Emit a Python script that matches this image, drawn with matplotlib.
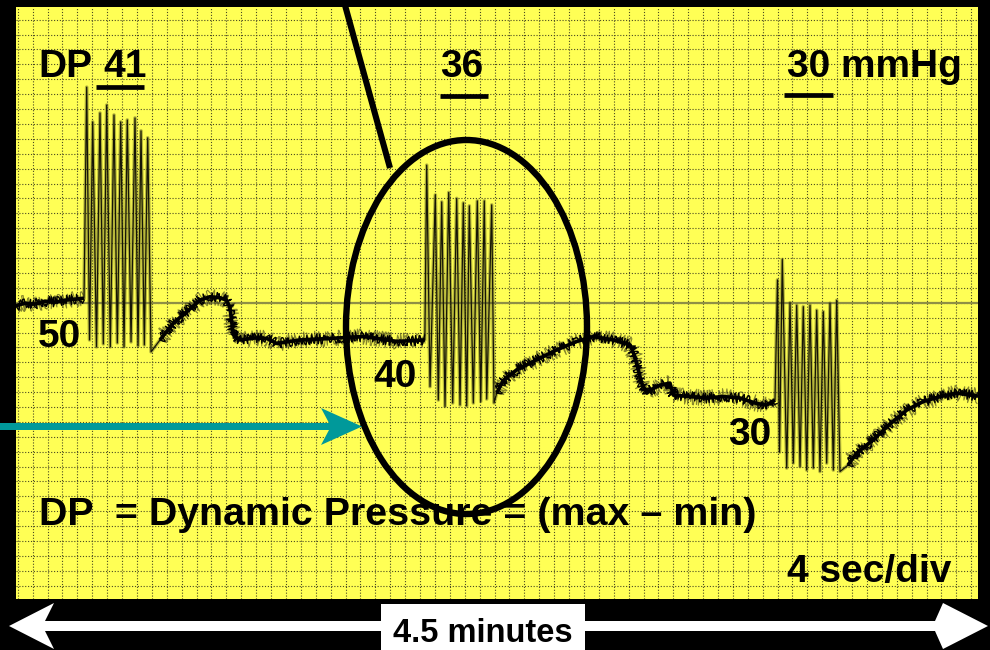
import numpy as np
import matplotlib
matplotlib.use("Agg")
import matplotlib.pyplot as plt
from matplotlib.patches import Ellipse, Polygon, Rectangle

# recorder trace: time in s, pressure in mmHg
seg1_t = [-0.5, 2.0, 4.6, 7.3, 10.0, 12.7, 15.4, 17.8]
seg1_p = [59.4, 59.9, 59.7, 60.3, 60.1, 60.5, 60.7, 60.9]

burst1_peak_t = [18.52, 20.13, 22.09, 23.89, 25.85, 27.65, 29.42, 31.49, 33.10, 34.90]
burst1_peak_p = [103.4, 96.4, 98.2, 99.8, 97.8, 96.4, 96.8, 97.2, 94.6, 93.2]
burst1_trough_t = [19.28, 21.15, 22.98, 24.86, 26.74, 28.54, 30.42, 32.30, 33.99, 35.79]
burst1_trough_p = [52.5, 51.1, 51.7, 51.1, 51.9, 51.1, 52.1, 51.3, 51.5, 50.1]

seg2_t = [38.2, 41.8, 45.4, 48.9, 51.6, 54.3, 56.1, 57.0, 57.9, 59.7, 63.7, 66.9,
          69.5, 75.8, 83.8, 92.8, 101.8, 109.3]
seg2_p = [52.5, 55.9, 58.2, 60.5, 61.2, 61.0, 60.5, 58.9, 53.5, 52.5, 52.9, 52.8,
          51.8, 52.5, 52.8, 53.2, 52.2, 52.5]

burst2_peak_t = [109.80, 112.11, 113.83, 115.71, 117.85, 119.63, 121.24, 123.38, 125.26, 127.25]
burst2_peak_p = [87.7, 81.7, 80.3, 82.2, 81.0, 80.1, 79.5, 80.5, 80.5, 79.7]
burst2_trough_t = [110.69, 112.91, 114.71, 116.78, 118.74, 120.54, 122.31, 124.30, 125.91, 127.87]
burst2_trough_p = [43.1, 40.4, 39.1, 39.8, 39.4, 39.2, 39.8, 40.1, 40.6, 39.8]

seg3_t = [128.6, 130.4, 134.0, 139.3, 144.7, 150.1, 154.5, 159.9, 164.4, 165.7, 167.5,
          168.9, 169.8, 172.4, 175.1, 176.0, 180.5, 185.0, 189.4, 193.9, 198.4, 201.1, 203.3]
seg3_p = [41.8, 44.4, 46.5, 48.5, 50.5, 52.2, 53.2, 52.5, 51.5, 49.1, 43.8,
          41.8, 42.4, 43.4, 43.8, 41.4, 41.1, 40.8, 41.1, 40.8, 39.7, 39.4, 40.4]

burst3_peak_t = [203.97, 205.26, 207.33, 209.13, 210.90, 212.70, 214.50, 216.27, 218.07, 219.87]
burst3_peak_p = [64.6, 68.7, 60.0, 59.5, 59.2, 59.5, 58.5, 58.2, 59.9, 60.5]
burst3_trough_t = [204.51, 206.45, 208.22, 210.02, 211.81, 213.59, 215.38, 217.18, 218.96, 220.75]
burst3_trough_p = [29.9, 26.7, 27.7, 27.0, 26.3, 26.7, 26.0, 27.7, 26.3, 26.0]

seg4_t = [222.9, 225.2, 229.7, 234.2, 238.7, 243.1, 247.6, 252.1, 257.8]
seg4_p = [27.3, 29.7, 32.4, 35.6, 38.4, 40.1, 41.1, 41.8, 41.2]

dp_labels = ["41", "36", "30"]
mean_labels = ["50", "40", "30"]


def burst(peak_t, peak_p, trough_t, trough_p):
    t, p = [], []
    for a, b, c, d in zip(peak_t, peak_p, trough_t, trough_p):
        t += [a, c]
        p += [b, d]
    return t, p


b1_t, b1_p = burst(burst1_peak_t, burst1_peak_p, burst1_trough_t, burst1_trough_p)
b2_t, b2_p = burst(burst2_peak_t, burst2_peak_p, burst2_trough_t, burst2_trough_p)
b3_t, b3_p = burst(burst3_peak_t, burst3_peak_p, burst3_trough_t, burst3_trough_p)

trace_t = seg1_t + b1_t + seg2_t + b2_t + seg3_t + b3_t + seg4_t
trace_p = seg1_p + b1_p + seg2_p + b2_p + seg3_p + b3_p + seg4_p

fig = plt.figure(figsize=(9.9, 6.5), dpi=100, facecolor="black")

# chart paper
ax = fig.add_axes([16 / 990, 51 / 650, 962 / 990, 592 / 650])
ax.set_facecolor("#FFFF55")
ax.set_xlim(-0.46, 257.8)
ax.set_ylim(0.34, 119.54)
ax.set_xticks(np.arange(0, 258, 4))
ax.set_yticks(np.arange(3, 120, 3))
ax.tick_params(length=0, labelbottom=False, labelleft=False)
ax.grid(True, color="#4a4a22", linestyle=(0, (1, 1.6)), linewidth=0.8)
ax.set_axisbelow(True)
for s in ax.spines.values():
    s.set_visible(False)
ax.axhline(60, color="#8f8f45", lw=1.6, zorder=1)

# oscillation bursts as thin pen strokes
ax.plot(trace_t, trace_p, color="#4a4a15", lw=2.6, alpha=0.4, zorder=2)
ax.plot(trace_t, trace_p, color="#151505", lw=0.9, zorder=3)

# slow pressure: noisy pen band
for st, sp in [(seg1_t, seg1_p), (seg2_t, seg2_p), (seg3_t, seg3_p), (seg4_t, seg4_p)]:
    ax.plot(st, sp, color="black", lw=2.6, zorder=4, solid_capstyle="butt")
    noisy, = ax.plot(st, sp, color="black", lw=1.0, zorder=4)
    noisy.set_sketch_params(scale=5, length=1.5, randomness=6)
    haze, = ax.plot(st, sp, color="#333310", lw=0.8, alpha=0.6, zorder=3)
    haze.set_sketch_params(scale=8, length=2, randomness=8)

# annotation layer in pixel units
ov = fig.add_axes([0, 0, 1, 1])
ov.set_xlim(0, 990)
ov.set_ylim(650, 0)
ov.axis("off")

# pointer and ellipse around the middle burst
ov.plot([343, 390], [-2, 168], color="black", lw=4.4, solid_capstyle="butt", zorder=2)
ov.add_patch(Ellipse((466.5, 327), 241, 374, fill=False, edgecolor="black", lw=4.6, zorder=2))

# teal arrow from the left edge
ov.add_patch(Polygon([(0, 423), (329, 423), (321, 408), (362, 426.5), (321, 445),
                      (329, 430), (0, 430)], closed=True, facecolor="#00999A",
                     edgecolor="none", zorder=2))

font = dict(family=["Liberation Sans", "DejaVu Sans"], weight="bold", color="black",
            zorder=5)

ov.text(38, 77, "DP", fontsize=28, **font)
ov.text(103, 77, dp_labels[0], fontsize=28, **font)
ov.text(440, 77, dp_labels[1], fontsize=28, **font)
ov.text(787, 77, dp_labels[2] + " mmHg", fontsize=28, **font)
for x0, x1, y in [(96, 144, 87), (440, 488, 96), (784, 833, 95)]:
    ov.plot([x0, x1], [y, y], color="black", lw=3.4, solid_capstyle="butt")

ov.text(38, 347, mean_labels[0], fontsize=28, **font)
ov.text(373, 387, mean_labels[1], fontsize=28, **font)
ov.text(728, 445, mean_labels[2], fontsize=28, **font)

ov.text(39, 525, "DP  = Dynamic Pressure = (max \u2013 min)", fontsize=28.4, **font)
ov.text(787, 582, "4 sec/div", fontsize=28, **font)

# time span arrow below the paper
ov.add_patch(Polygon([(9, 626), (54, 603), (45, 621), (935, 621), (943, 603), (988, 626),
                      (943, 649), (935, 631), (45, 631), (54, 649)], closed=True,
                     facecolor="white", edgecolor="none"))
ov.add_patch(Rectangle((381, 604), 204, 50, facecolor="white", edgecolor="none"))
ov.text(483, 642, "4.5 minutes", fontsize=23.5, ha="center", **font)

fig.savefig("out.png", dpi=100, facecolor="black")
